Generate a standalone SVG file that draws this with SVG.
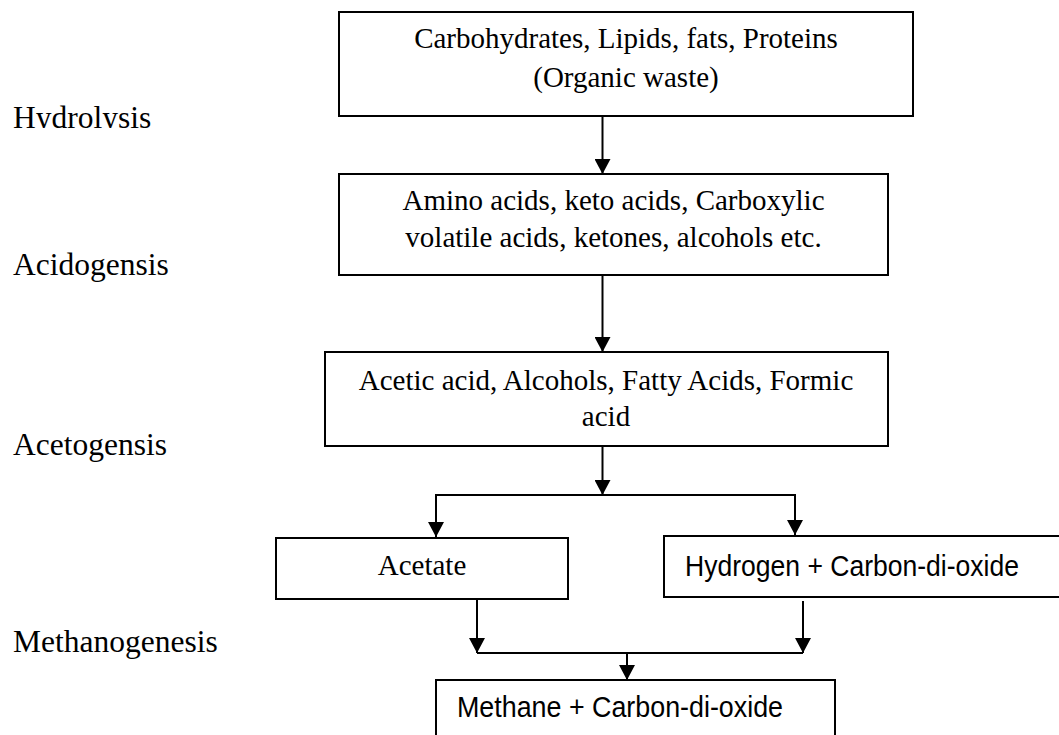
<svg xmlns="http://www.w3.org/2000/svg" width="1059" height="735" viewBox="0 0 1059 735">
  <style>
    .box { fill: #ffffff; stroke: #000000; stroke-width: 2; }
    .serif { font-family: "Liberation Serif", "Times New Roman", serif; font-size: 29px; fill: #000000; }
    .label { font-family: "Liberation Serif", "Times New Roman", serif; font-size: 31.5px; fill: #000000; }
    .sans { font-family: "Liberation Sans", Arial, sans-serif; font-size: 29px; fill: #000000; }
    .conn { fill: none; stroke: #000000; stroke-width: 2; }
  </style>
  <defs>
    <marker id="arrow" markerUnits="userSpaceOnUse" markerWidth="16" markerHeight="16" viewBox="0 0 16 16" refX="15" refY="8" orient="auto">
      <path d="M0,0 L15,8 L0,16 Z" fill="#000000"/>
    </marker>
    <clipPath id="clipHydro">
      <rect x="0" y="80" width="300" height="48"/>
    </clipPath>
  </defs>
  <rect width="1059" height="735" fill="#ffffff"/>

  <g id="labels">
    <text class="label" x="13" y="128" clip-path="url(#clipHydro)">Hydrolysis</text>
    <text class="label" x="13" y="275">Acidogensis</text>
    <text class="label" x="13" y="455">Acetogensis</text>
    <text class="label" x="13" y="652">Methanogenesis</text>
  </g>

  <g id="node-organic-waste">
    <rect class="box" x="339" y="12" width="574" height="104"/>
    <text class="serif" x="626" y="48" text-anchor="middle">Carbohydrates, Lipids, fats, Proteins</text>
    <text class="serif" x="626" y="87" text-anchor="middle">(Organic waste)</text>
  </g>

  <g id="node-amino-acids">
    <rect class="box" x="339" y="174" width="549" height="101"/>
    <text class="serif" x="613.5" y="210" text-anchor="middle">Amino acids, keto acids, Carboxylic</text>
    <text class="serif" x="613.5" y="247" text-anchor="middle">volatile acids, ketones, alcohols etc.</text>
  </g>

  <g id="node-acetic-acid">
    <rect class="box" x="325" y="352" width="563" height="94"/>
    <text class="serif" x="606" y="390" text-anchor="middle">Acetic acid, Alcohols, Fatty Acids, Formic</text>
    <text class="serif" x="606" y="426" text-anchor="middle">acid</text>
  </g>

  <g id="node-acetate">
    <rect class="box" x="276" y="538" width="292" height="61"/>
    <text class="serif" x="422" y="575" text-anchor="middle">Acetate</text>
  </g>

  <g id="node-hydrogen">
    <rect class="box" x="664" y="536" width="420" height="61"/>
    <text class="sans" x="685" y="576" textLength="334" lengthAdjust="spacingAndGlyphs">Hydrogen + Carbon-di-oxide</text>
  </g>

  <g id="node-methane">
    <rect class="box" x="436" y="680" width="399" height="70"/>
    <text class="sans" x="457" y="717" textLength="326" lengthAdjust="spacingAndGlyphs">Methane + Carbon-di-oxide</text>
  </g>

  <g id="connectors">
    <line class="conn" x1="602.5" y1="116" x2="602.5" y2="174" marker-end="url(#arrow)"/>
    <line class="conn" x1="602.5" y1="275" x2="602.5" y2="352" marker-end="url(#arrow)"/>
    <line class="conn" x1="602.5" y1="446" x2="602.5" y2="495" marker-end="url(#arrow)"/>
    <polyline class="conn" points="436,495 795,495"/>
    <line class="conn" x1="436" y1="494" x2="436" y2="537" marker-end="url(#arrow)"/>
    <line class="conn" x1="795" y1="494" x2="795" y2="535" marker-end="url(#arrow)"/>
    <line class="conn" x1="477" y1="600" x2="477" y2="653" marker-end="url(#arrow)"/>
    <line class="conn" x1="803" y1="601" x2="803" y2="653" marker-end="url(#arrow)"/>
    <polyline class="conn" points="477,653 803,653"/>
    <line class="conn" x1="627" y1="653" x2="627" y2="680" marker-end="url(#arrow)"/>
  </g>
</svg>
